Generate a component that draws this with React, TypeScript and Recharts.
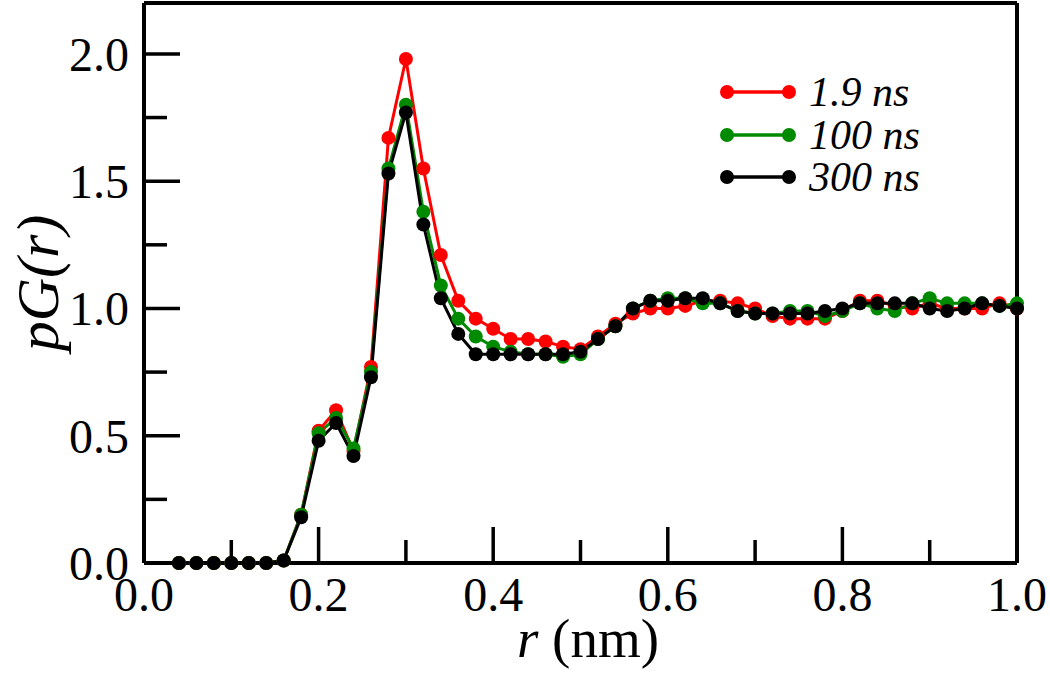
import React from 'react';
import { LineChart, Line, XAxis, YAxis, Legend } from 'recharts';

const rValues = [
  0.04, 0.06, 0.08, 0.1, 0.12, 0.14, 0.16, 0.18, 0.2, 0.22, 0.24, 0.26, 0.28, 0.3, 0.32, 0.34,
  0.36, 0.38, 0.4, 0.42, 0.44, 0.46, 0.48, 0.5, 0.52, 0.54, 0.56, 0.58, 0.6, 0.62, 0.64, 0.66,
  0.68, 0.7, 0.72, 0.74, 0.76, 0.78, 0.8, 0.82, 0.84, 0.86, 0.88, 0.9, 0.92, 0.94, 0.96, 0.98, 1.0,
];

const g19 = [
  0, 0, 0, 0, 0, 0, 0.01, 0.19, 0.52, 0.6, 0.44, 0.77, 1.67, 1.98, 1.55, 1.21,
  1.03, 0.96, 0.92, 0.88, 0.88, 0.87, 0.85, 0.84, 0.89, 0.94, 0.98, 1.0, 1.0, 1.01, 1.03, 1.03,
  1.02, 1.0, 0.97, 0.96, 0.96, 0.96, 0.99, 1.03, 1.03, 1.01, 1.0, 1.02, 1.0, 1.0, 1.0, 1.02, 1.0,
];

const g100 = [
  0, 0, 0, 0, 0, 0, 0.01, 0.19, 0.51, 0.57, 0.45, 0.75, 1.55, 1.8, 1.38, 1.09,
  0.96, 0.89, 0.85, 0.83, 0.82, 0.82, 0.81, 0.82, 0.88, 0.93, 1.0, 1.03, 1.04, 1.04, 1.02, 1.02,
  0.99, 0.98, 0.98, 0.99, 0.99, 0.97, 0.99, 1.02, 1.0, 0.99, 1.02, 1.04, 1.02, 1.02, 1.02, 1.01, 1.02,
];

const g300 = [
  0, 0, 0, 0, 0, 0, 0.01, 0.18, 0.48, 0.55, 0.42, 0.73, 1.53, 1.77, 1.33, 1.04,
  0.9, 0.82, 0.82, 0.82, 0.82, 0.82, 0.82, 0.83, 0.88, 0.93, 1.0, 1.03, 1.03, 1.04, 1.04, 1.02,
  0.99, 0.98, 0.98, 0.98, 0.98, 0.99, 1.0, 1.02, 1.02, 1.02, 1.02, 1.0, 0.99, 1.0, 1.02, 1.01, 1.0,
];

const xTicks = [0, 0.1, 0.2, 0.3, 0.4, 0.5, 0.6, 0.7, 0.8, 0.9, 1.0];
const yTicks = [0, 0.25, 0.5, 0.75, 1.0, 1.25, 1.5, 1.75, 2.0];

const series = [
  { key: 'g19', name: '1.9 ns', color: '#ff0000' },
  { key: 'g100', name: '100 ns', color: '#008a00' },
  { key: 'g300', name: '300 ns', color: '#000000' },
];

const data = rValues.map((r, i) => ({ r, g19: g19[i], g100: g100[i], g300: g300[i] }));

const W = 1050;
const H = 679;
const LEFT = 144;
const RIGHT = 1017;
const TOP = 3;
const BOTTOM = 563;
const FONT = "'Liberation Serif', 'Times New Roman', serif";

function XTick({ x, payload }: any) {
  const major = Math.round(payload.value * 10) % 2 === 0;
  return (
    <g>
      <line x1={x} x2={x} y1={BOTTOM} y2={BOTTOM - (major ? 36 : 23)} stroke="#000" strokeWidth={3.5} />
      {major && (
        <text x={x} y={BOTTOM + 48} textAnchor="middle" fontFamily={FONT} fontSize={48} fill="#000">
          {payload.value.toFixed(1)}
        </text>
      )}
    </g>
  );
}

function YTick({ y, payload }: any) {
  const major = Math.round(payload.value * 4) % 2 === 0;
  return (
    <g>
      <line x1={LEFT} x2={LEFT + (major ? 36 : 23)} y1={y} y2={y} stroke="#000" strokeWidth={3.5} />
      {major && (
        <text x={LEFT - 15} y={y + 17} textAnchor="end" fontFamily={FONT} fontSize={48} fill="#000">
          {payload.value.toFixed(1)}
        </text>
      )}
    </g>
  );
}

// axis titles ignore the props recharts injects, they sit at fixed spots
function XTitle() {
  return (
    <text x={588} y={657} textAnchor="middle" fontFamily={FONT} fontSize={55} fill="#000">
      <tspan fontStyle="italic">r</tspan> (nm)
    </text>
  );
}

function YTitle() {
  return (
    <text
      x={58}
      y={283}
      transform="rotate(-90 58 283)"
      textAnchor="middle"
      fontFamily={FONT}
      fontSize={60}
      fontStyle="italic"
      fill="#000"
    >
      pG(r)
    </text>
  );
}

function LegendBox({ payload }: any) {
  return (
    <div>
      {(payload || []).map((p: any) => (
        <div key={p.value} style={{ display: 'flex', alignItems: 'center', height: 42.5 }}>
          <svg width={76} height={20} style={{ display: 'block' }}>
            <line x1={7} x2={69} y1={10} y2={10} stroke={p.color} strokeWidth={3.5} />
            <circle cx={7} cy={10} r={7} fill={p.color} />
            <circle cx={69} cy={10} r={7} fill={p.color} />
          </svg>
          <span
            style={{ marginLeft: 13, fontFamily: FONT, fontSize: 42, fontStyle: 'italic', lineHeight: 1, color: '#000' }}
          >
            {p.value}
          </span>
        </div>
      ))}
    </div>
  );
}

export default function App() {
  return (
    <div style={{ position: 'absolute', left: 0, top: 0, width: W, height: H, background: '#fff' }}>
      <LineChart
        width={W}
        height={H}
        data={data}
        margin={{ top: TOP - 1, right: W - RIGHT - 1, bottom: H - BOTTOM - 1, left: LEFT - 1 }}
      >
        <XAxis
          dataKey="r"
          type="number"
          domain={[0, 1]}
          ticks={xTicks}
          interval={0}
          height={1}
          tickLine={false}
          tick={<XTick />}
          axisLine={{ stroke: '#000', strokeWidth: 4 }}
          label={<XTitle />}
        />
        <XAxis
          xAxisId="top"
          orientation="top"
          type="number"
          domain={[0, 1]}
          height={1}
          tick={false}
          tickLine={false}
          axisLine={{ stroke: '#000', strokeWidth: 4 }}
        />
        <YAxis
          type="number"
          domain={[0, 2.2]}
          ticks={yTicks}
          interval={0}
          width={1}
          tickLine={false}
          tick={<YTick />}
          axisLine={{ stroke: '#000', strokeWidth: 4 }}
          label={<YTitle />}
        />
        <YAxis
          yAxisId="right"
          orientation="right"
          type="number"
          domain={[0, 2.2]}
          width={1}
          tick={false}
          tickLine={false}
          axisLine={{ stroke: '#000', strokeWidth: 4 }}
        />
        {series.map((s) => (
          <Line
            key={s.key}
            dataKey={s.key}
            name={s.name}
            stroke={s.color}
            strokeWidth={3}
            dot={{ r: 7, fill: s.color, stroke: s.color, strokeWidth: 0 }}
            activeDot={false}
            isAnimationActive={false}
          />
        ))}
        <Legend
          layout="vertical"
          align="center"
          verticalAlign="middle"
          content={<LegendBox />}
          wrapperStyle={{ left: 720, top: 71, width: 260, height: 130 }}
        />
      </LineChart>
    </div>
  );
}
